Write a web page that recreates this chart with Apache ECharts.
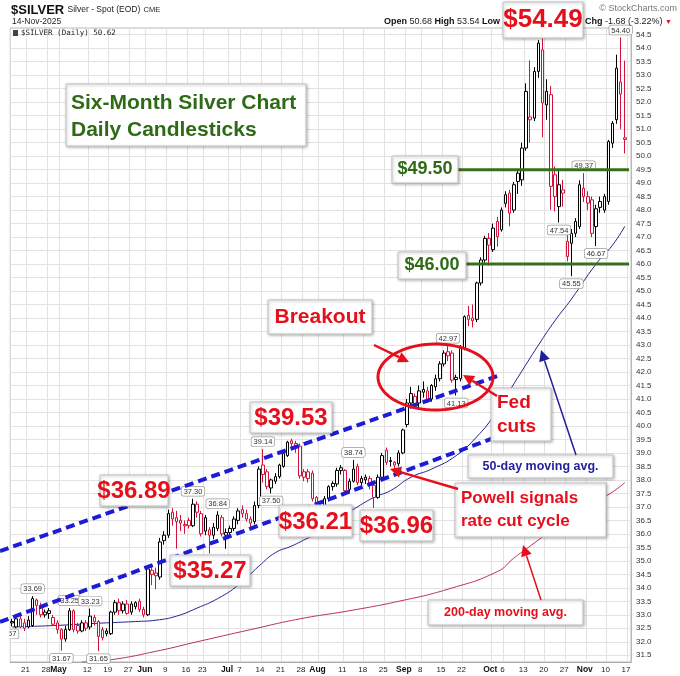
<!DOCTYPE html>
<html><head><meta charset="utf-8">
<script src="https://cdn.jsdelivr.net/npm/echarts@6/dist/echarts.min.js"></script>
<style>html,body{margin:0;padding:0;background:#fff}#c{width:680px;height:676px}</style>
</head><body><div id="c"></div>
<script>
// ---------- calendar ----------
const holidays = ['2025-04-18','2025-05-26','2025-06-19','2025-07-04','2025-09-01'];
const firstDay = '2025-04-14', lastDay = '2025-11-17';
const tickDates = ['2025-04-21','2025-04-28','2025-05-01','2025-05-12','2025-05-19','2025-05-27','2025-06-02','2025-06-09','2025-06-16','2025-06-23','2025-07-01','2025-07-07','2025-07-14','2025-07-21','2025-07-28','2025-08-01','2025-08-11','2025-08-18','2025-08-25','2025-09-02','2025-09-08','2025-09-15','2025-09-22','2025-10-01','2025-10-06','2025-10-13','2025-10-20','2025-10-27','2025-11-03','2025-11-10','2025-11-17'];
const tickTexts = ['21','28','May','12','19','27','Jun','9','16','23','Jul','7','14','21','28','Aug','11','18','25','Sep','8','15','22','Oct','6','13','20','27','Nov','10','17'];
const monthTexts = ['May','Jun','Jul','Aug','Sep','Oct','Nov'];

// ---------- daily bars [open, close, low, high] ----------
const aprilBars = [
 [32.75,32.70,32.57,32.85],[32.55,32.85,32.50,33.00],[32.85,32.55,32.50,32.95],[32.70,32.50,32.40,32.85],
 [32.55,32.80,32.50,32.95],[32.60,33.60,32.55,33.69],[33.55,33.35,33.00,33.60],[33.30,33.00,32.90,33.45],
 [33.00,33.10,32.90,33.20],[33.05,33.15,32.85,33.25],[32.90,32.65,32.60,33.00],[32.70,32.45,32.30,32.80]];
const mayBars = [
 [32.45,32.10,31.67,32.50],[32.10,32.45,32.00,32.60],[32.45,33.15,32.40,33.25],[33.15,32.45,32.35,33.20],
 [32.60,32.40,32.30,32.70],[32.40,32.70,32.35,32.80],[32.70,32.50,32.40,32.80],[32.55,32.95,32.45,33.23],
 [32.90,32.75,32.60,33.00],[32.75,32.20,31.65,32.80],[32.45,32.15,32.05,32.55],[32.40,32.30,32.20,32.50],
 [32.30,33.10,32.25,33.15],[33.10,33.45,33.00,33.55],[33.45,33.15,33.00,33.60],[33.15,33.40,33.05,33.50],
 [33.40,33.05,33.00,33.55],[33.10,33.40,33.00,33.50],[33.30,33.45,33.20,33.50],[33.50,33.20,33.10,33.60],
 [33.20,33.00,32.90,33.30]];
const juneBars = [
 [33.00,34.70,32.95,34.80],[34.65,34.50,34.10,34.80],[34.55,34.45,33.95,34.75],[34.40,35.70,34.30,35.85],
 [35.75,35.95,35.60,36.10],[35.95,36.75,35.85,36.90],[36.80,36.55,36.30,36.95],[36.60,36.45,35.45,36.85],
 [36.50,36.40,36.10,36.70],[36.30,36.35,36.00,36.50],[36.50,36.30,36.20,36.60],[36.30,37.10,36.25,37.30],
 [37.10,36.80,36.60,37.20],[36.75,36.00,35.90,36.85],[36.60,36.10,35.95,36.70],[36.15,35.95,35.27,36.25],
 [35.95,36.25,35.80,36.40],[36.20,36.70,36.10,36.84],[36.60,36.00,35.90,36.70],[35.95,36.05,35.45,36.20]];
const julyBars = [
 [36.05,36.20,35.90,36.30],[36.20,36.55,36.10,36.65],[36.50,36.85,36.35,36.95],[36.90,36.75,36.60,37.05],
 [36.75,36.55,36.45,36.90],[36.55,36.40,36.20,36.65],[36.45,37.05,36.35,37.20],[37.05,38.40,36.95,38.50],
 [38.55,38.20,37.90,39.14],[38.30,37.75,37.65,38.40],[37.70,38.00,37.50,38.05],[37.95,38.12,37.85,38.25],
 [38.12,38.55,38.05,38.60],[38.50,38.98,38.45,39.05],[38.90,39.40,38.85,39.45],[39.45,39.35,39.10,39.53],
 [39.35,39.25,39.00,39.45],[39.25,38.15,38.05,39.35],[38.30,38.10,37.95,38.40],[38.30,38.05,37.90,38.40],
 [38.25,37.30,37.20,38.35],[37.35,36.80,36.21,37.40]];
const augustBars = [
 [36.75,37.00,36.50,37.10],[37.00,37.30,36.90,37.40],[37.30,37.75,37.20,37.80],[37.75,37.87,37.60,37.95],
 [37.85,38.35,37.75,38.45],[38.35,38.45,38.20,38.55],[38.35,37.60,37.50,38.40],[37.65,37.95,37.55,38.05],
 [37.95,38.40,37.90,38.74],[38.50,37.90,37.80,38.60],[37.90,38.05,37.80,38.15],[38.00,38.10,37.85,38.20],
 [38.05,37.80,37.65,38.15],[37.80,37.35,36.96,37.90],[37.35,38.10,37.30,38.20],[38.10,38.90,38.05,39.00],
 [39.10,38.65,38.55,39.20],[38.72,38.68,38.50,38.85],[38.65,38.55,38.40,38.70],[38.60,39.00,38.50,39.10],
 [39.00,39.85,38.95,39.90]];
const septemberBars = [
 [40.05,40.85,39.95,41.00],[40.85,41.20,40.75,41.45],[41.10,40.80,40.65,41.20],[40.85,41.30,40.60,41.50],
 [41.25,41.35,41.05,41.65],[41.30,40.95,40.85,41.45],[41.00,41.50,40.90,41.55],[41.45,41.75,41.30,41.90],
 [41.75,42.30,41.65,42.40],[42.30,42.70,42.20,42.80],[42.75,42.60,42.40,42.97],[42.70,41.70,41.60,42.80],
 [41.80,41.72,41.13,41.90],[41.75,42.90,41.65,43.00],[42.90,44.05,42.80,44.10],[44.10,43.95,43.70,44.45],
 [44.00,43.90,43.65,44.50],[43.95,45.30,43.85,45.35],[45.30,46.15,45.20,46.25],[46.15,46.95,46.05,47.05],
 [46.95,46.70,45.95,47.15]];
const octoberBars = [
 [46.53,47.33,46.45,47.50],[47.58,47.02,46.65,47.75],[47.27,48.00,47.20,48.10],[48.25,48.57,48.10,48.70],
 [48.63,47.89,47.40,48.75],[48.00,48.94,47.90,49.05],[49.06,49.37,48.60,49.50],[49.12,50.30,48.90,50.50],
 [50.30,52.40,50.20,52.70],[51.35,51.45,50.50,53.55],[51.41,53.14,51.30,53.30],[53.14,54.19,52.90,54.30],
 [53.94,51.97,50.70,54.49],[51.90,52.40,51.35,52.85],[52.28,48.88,48.01,52.60],[49.31,48.50,47.95,49.62],
 [48.13,48.94,47.54,49.50],[48.75,48.63,48.13,49.12],[46.28,46.84,46.10,47.10],[46.77,47.14,45.55,47.30],
 [47.14,47.58,47.00,47.70],[47.39,48.94,47.30,49.10],[48.50,48.81,48.30,49.37]];
const novemberBars = [
 [48.50,48.26,48.00,48.70],[48.38,47.14,47.00,48.50],[47.39,48.05,46.67,48.20],[48.32,48.10,47.90,48.50],
 [48.00,48.50,47.90,48.60],[48.32,50.54,48.20,50.60],[50.48,51.22,50.30,51.30],[51.35,53.26,51.20,53.76],
 [52.75,52.30,51.00,54.40],[50.68,50.62,50.10,53.54]];

// ---------- moving averages [dayIndex, value] ----------
const ma50Points = [[0,32.55],[10,32.6],[20,32.68],[30,32.75],[35,32.8],[40,32.95],[45,33.25],[50,33.6],[55,34.1],[60,34.8],[64,35.3],[68,35.55],[72,35.85],[76,36.15],[80,36.6],[84,37.0],[88,37.35],[92,37.6],[97,38.1],[102,38.4],[108,38.9],[113,39.6],[117,40.35],[123,41.8],[128,43.0],[132,43.9],[136,44.7],[142,46.0],[146,46.7],[149,47.4]];
const ma200Points = [[17,31.25],[24,31.33],[36,31.68],[45,32.0],[58,32.45],[70,32.85],[82,33.15],[94,33.5],[106,33.95],[118,34.6],[122,35.1],[126,35.55],[130,36.0],[134,36.45],[138,36.85],[142,37.2],[146,37.55],[149,37.9]];

// ---------- annotations (data-space) ----------
const highMarks = [5,14,19,44,50,61,83,106,139,148];
const lowMarks = [0,12,21,63,108,133,136,142];
const upperChannel = [[58,38.63],[118,41.85]];
const lowerChannel = [[0,32.9],[117,39.55]];
const levelLines = [49.5, 46.0];
const yTicks = {min:31.25, max:54.75, step:0.25};

// ---------- build ----------
function tradingDays(){
  const out=[]; let t=Date.parse(firstDay+'T00:00:00Z'); const end=Date.parse(lastDay+'T00:00:00Z');
  while(t<=end){ const d=new Date(t); const wd=d.getUTCDay(); const s=d.toISOString().slice(0,10);
    if(wd>0&&wd<6&&!holidays.includes(s)) out.push(s); t+=86400000; }
  return out;
}
const dates = tradingDays();
const bars = [].concat(aprilBars,mayBars,juneBars,julyBars,augustBars,septemberBars,octoberBars,novemberBars);
const tickMap = {}; tickDates.forEach((d,i)=>tickMap[d]=tickTexts[i]);
const RED='#d3123b', ARED='#e5101c', GREEN='#2f6b17', NAVY='#1f1f9c', BLUE='#1c1cd6';
const F='"Liberation Sans", Arial, sans-serif';

const candleData = bars.map((b,i)=>{
  const prev = i ? bars[i-1][1] : b[1];
  const c = b[1] >= prev ? '#000' : RED;
  return {value:b, itemStyle:{color:'#fff', color0:c, borderColor:c, borderColor0:c}};
});

const chart = echarts.init(document.getElementById('c'));
chart.setOption({
  animation:false,
  backgroundColor:'#fff',
  grid:{left:10,right:49,top:28,bottom:14,show:true,borderColor:'#b8b8b8',borderWidth:1},
  xAxis:{type:'category',data:dates,boundaryGap:true,
    axisLine:{lineStyle:{color:'#aaa'}},axisTick:{show:false},
    axisLabel:{interval:(i,v)=>tickMap[v]!==undefined,
      formatter:v=>{const t=tickMap[v]; return monthTexts.includes(t)?'{m|'+t+'}':'{n|'+t+'}';},
      fontSize:8,color:'#222',margin:3,padding:[0,6,0,0],fontFamily:F,
      rich:{m:{fontWeight:'bold',fontSize:8.5,color:'#111',fontFamily:F,lineHeight:10},
            n:{fontSize:8,color:'#222',fontFamily:F,lineHeight:10}}},
    splitLine:{show:true,interval:(i,v)=>tickMap[v]!==undefined,lineStyle:{color:'#e2e2e2',width:1}}},
  yAxis:{type:'value',position:'right',min:yTicks.min,max:yTicks.max,interval:yTicks.step,scale:true,
    axisLine:{show:true,lineStyle:{color:'#b8b8b8'}},axisTick:{show:false},
    axisLabel:{fontSize:8,color:'#333',margin:5,fontFamily:F,
      formatter:v=>(Math.round(v*100)%50===0)?v.toFixed(1):''},
    splitLine:{show:true,lineStyle:{color:['rgba(0,0,0,0)','#e2e2e2'],width:1}}},
  series:[
    {type:'line',name:'MA200',data:ma200Points,smooth:true,symbol:'none',z:1,
      lineStyle:{color:'#b8325a',width:1}},
    {type:'line',name:'MA50',data:ma50Points,smooth:true,symbol:'none',z:1,
      lineStyle:{color:'#24248f',width:1}},
    {type:'candlestick',name:'SILVER',data:candleData,barWidth:3,z:3,
      itemStyle:{borderWidth:1}}
  ]
});

const px=(i,v)=>chart.convertToPixel({xAxisIndex:0,yAxisIndex:0},[i,v]);
const G=[];
const txt=(x,y,text,font,fill,align)=>G.push({type:'text',z:111,x,y,style:{text,font,fill,align:align||'left',verticalAlign:'middle'}});
const box=(x1,y1,x2,y2)=>G.push({type:'rect',z:110,shape:{x:x1,y:y1,width:x2-x1,height:y2-y1},
  style:{fill:'#fff',stroke:'#c4c4c4',lineWidth:1,shadowBlur:3,shadowColor:'rgba(0,0,0,0.28)',shadowOffsetX:1,shadowOffsetY:1}});
function arrow(x1,y1,x2,y2,color,w){
  const a=Math.atan2(y2-y1,x2-x1),L=11,W=5.5;
  const bx=x2-L*Math.cos(a),by=y2-L*Math.sin(a),nx=-Math.sin(a)*W,ny=Math.cos(a)*W;
  G.push({type:'line',z:112,shape:{x1,y1,x2:bx,y2:by},style:{stroke:color,lineWidth:w}});
  G.push({type:'polygon',z:112,shape:{points:[[x2,y2],[bx+nx,by+ny],[bx-nx,by-ny]]},style:{fill:color}});
}
const gridRight = 680-49;

// channel lines
[upperChannel,lowerChannel].forEach(ch=>{
  const p1=px(ch[0][0],ch[0][1]), p2=px(ch[1][0],ch[1][1]);
  const s=(p2[1]-p1[1])/(p2[0]-p1[0]); const y0=p1[1]-s*p1[0];
  G.push({type:'line',z:100,shape:{x1:0,y1:y0,x2:p2[0],y2:p2[1]},style:{stroke:BLUE,lineWidth:4,lineDash:[9,5]}});
});

// small high / low labels (the first one sits half outside the plot)
const smallLabel=(i,v,isHigh)=>{
  const p=px(i,v);
  const y=isHigh?p[1]-3:p[1]+3;
  const x=i===0?p[0]-5:p[0];
  G.push({type:'text',z:97,x,y,style:{text:v.toFixed(2),font:'7.5px '+F,fill:'#333',align:'center',
    verticalAlign:isHigh?'bottom':'top',backgroundColor:'#fff',borderColor:'#9a9a9a',borderWidth:0.7,borderRadius:2,padding:[1,2,0,2]}});
};
highMarks.forEach(i=>smallLabel(i,bars[i][3],true));
lowMarks.forEach(i=>smallLabel(i,bars[i][2],false));
// white margin on the left of the plot
G.push({type:'rect',z:98,shape:{x:0,y:28,width:9.5,height:640},style:{fill:'#fff'}});

// horizontal levels with boxes
const lvlBoxes=[[392,156,458,183,'$49.50'],[398,252,466,279,'$46.00']];
levelLines.forEach((v,k)=>{
  const y=px(0,v)[1]; const b=lvlBoxes[k];
  G.push({type:'line',z:101,shape:{x1:b[2],y1:y,x2:gridRight-2,y2:y},style:{stroke:'#3a6e1f',lineWidth:3}});
  box(b[0],b[1],b[2],b[3]); txt((b[0]+b[2])/2,(b[1]+b[3])/2,b[4],'bold 18px '+F,GREEN,'center');
});

// title
box(66,84,306,146);
txt(71,103,'Six-Month Silver Chart','bold 21px '+F,GREEN);
txt(71,130,'Daily Candlesticks','bold 21px '+F,GREEN);

// price boxes
[[100,475,168,506,'$36.89'],[250,402,332,433,'$39.53'],[170,555,250,586,'$35.27'],[279,505,352,537,'$36.21'],[360,510,433,541,'$36.96']]
 .forEach(b=>{box(b[0],b[1],b[2],b[3]); txt((b[0]+b[2])/2,(b[1]+b[3])/2+1,b[4],'bold 24px '+F,ARED,'center');});

// breakout
box(268,300,372,334); txt(320,317,'Breakout','bold 21px '+F,ARED,'center');
arrow(374,345,409,362,ARED,2.5);
const ell=[]; for(let k=0;k<90;k++){const a=k/90*Math.PI*2; ell.push([435.5+57.5*Math.cos(a),377+33*Math.sin(a)]);}
G.push({type:'polygon',z:102,shape:{points:ell},style:{fill:'none',stroke:ARED,lineWidth:3}});

// Fed cuts
box(491,388,551,441); txt(497,403,'Fed','bold 19px '+F,ARED); txt(497,427,'cuts','bold 19px '+F,ARED);
arrow(497,396,463,375,ARED,2.5);

// Powell
box(455,483,606,537); txt(461,498,'Powell signals','bold 17px '+F,ARED); txt(461,521,'rate cut cycle','bold 17px '+F,ARED);
arrow(458,489,390,469,ARED,2.5);

// MA boxes
box(468,455,613,478); txt(540.5,466.5,'50-day moving avg.','bold 12.5px '+F,NAVY,'center');
arrow(576,455,541,350,NAVY,1.5);
box(428,600,583,625); txt(505.5,612.5,'200-day moving avg.','bold 12.5px '+F,ARED,'center');
arrow(541,600,523,545,ARED,1.5);

// header
G.push({type:'text',z:111,x:11,y:10,style:{text:'{s|$SILVER} {t|Silver - Spot (EOD)} {c|CME}',verticalAlign:'middle',align:'left',
  rich:{s:{font:'bold 13px "Liberation Sans Narrow", "Liberation Sans", Arial, sans-serif',fill:'#111'},
        t:{font:'8.5px '+F,fill:'#222'},c:{font:'7.5px '+F,fill:'#222'}}}});
txt(12,22,'14-Nov-2025','8.5px '+F,'#222');
G.push({type:'text',z:111,x:500,y:22,style:{text:'{b|Open} 50.68 {b|High} 53.54 {b|Low}',font:'9px '+F,fill:'#222',align:'right',verticalAlign:'middle',
  rich:{b:{font:'bold 9px '+F,fill:'#111'}}}});
G.push({type:'text',z:111,x:585,y:22,style:{text:'{b|Chg} -1.68 (-3.22%) {r|▼}',font:'9px '+F,fill:'#222',align:'left',verticalAlign:'middle',
  rich:{b:{font:'bold 9px '+F,fill:'#111'},r:{font:'7px '+F,fill:ARED}}}});
txt(677,9,'© StockCharts.com','9px '+F,'#777','right');
G.push({type:'rect',z:111,shape:{x:13,y:30,width:5,height:6},style:{fill:'#444'}});
txt(21,33.5,'$SILVER (Daily) 50.62','7.5px "DejaVu Sans Mono", monospace','#222');
box(503,2,583,38); txt(543,20,'$54.49','bold 26px '+F,ARED,'center');

chart.setOption({graphic:{elements:G}});
</script>
</body></html>
